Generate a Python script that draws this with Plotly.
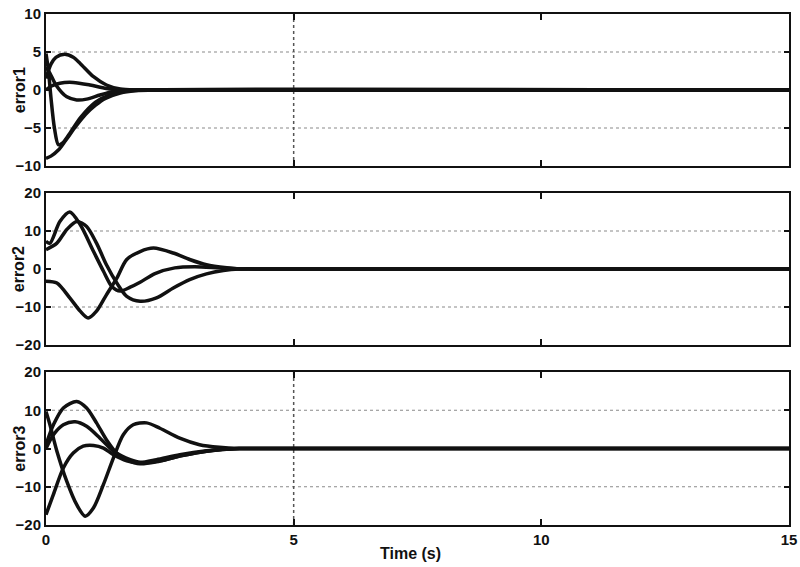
import plotly.graph_objects as go
from plotly.subplots import make_subplots

# ---- error1 traces (time in s, error value) ----
e1_a_t = [0, 0.1, 0.2, 0.38, 0.55, 0.69, 0.96, 1.22, 1.5, 1.8, 2.2, 15]
e1_a_v = [1.5, 3.4, 4.3, 4.7, 4.3, 3.5, 1.75, 0.66, 0.13, 0.0, 0.0, 0.0]

e1_b_t = [0, 0.05, 0.1, 0.17, 0.25, 0.33, 0.45, 0.7, 1.0, 1.3, 1.6, 2.0, 15]
e1_b_v = [4.8, 2.5, -1.0, -5.0, -7.2, -7.0, -6.0, -3.6, -1.6, -0.6, -0.15, 0.0, 0.0]

e1_c_t = [0, 0.1, 0.25, 0.4, 0.6, 0.8, 1.0, 1.2, 1.5, 1.8, 2.2, 15]
e1_c_v = [-9.0, -8.7, -7.9, -6.6, -4.8, -3.2, -2.0, -1.1, -0.4, -0.1, 0.0, 0.0]

e1_d_t = [0, 0.1, 0.28, 0.55, 0.89, 1.22, 1.6, 2.0, 15]
e1_d_v = [0.0, 0.5, 0.9, 1.0, 0.66, 0.2, 0.0, 0.0, 0.0]

e1_e_t = [0, 0.08, 0.2, 0.42, 0.62, 0.82, 1.09, 1.36, 1.7, 2.1, 15]
e1_e_v = [3.0, 2.2, 0.66, -0.9, -1.3, -1.2, -0.66, -0.2, 0.0, 0.0, 0.0]

# ---- error2 traces ----
e2_a_t = [0, 0.08, 0.28, 0.48, 0.69, 0.96, 1.16, 1.33, 1.5, 1.7, 1.9, 2.2, 2.6, 3.0, 3.5, 4.0, 4.5, 15]
e2_a_v = [7.3, 6.8, 12.5, 15.0, 11.7, 4.6, -0.6, -4.6, -5.8, -4.8, -3.5, -1.2, 0.3, 0.6, 0.3, 0.0, 0.0, 0.0]

e2_b_t = [0, 0.22, 0.42, 0.62, 0.82, 1.02, 1.22, 1.43, 1.63, 1.9, 2.23, 2.57, 2.9, 3.24, 3.58, 3.9, 4.5, 15]
e2_b_v = [5.1, 6.8, 10.4, 12.5, 11.2, 6.8, 1.1, -3.7, -7.2, -8.5, -7.6, -5.0, -2.8, -1.3, -0.4, 0.0, 0.0, 0.0]

e2_c_t = [0, 0.22, 0.48, 0.69, 0.85, 1.02, 1.22, 1.43, 1.63, 1.9, 2.17, 2.57, 2.9, 3.24, 3.65, 3.9, 4.5, 15]
e2_c_v = [-3.2, -3.7, -7.6, -11.1, -12.9, -11.1, -6.8, -2.4, 2.5, 4.6, 5.5, 4.2, 2.5, 1.1, 0.3, 0.0, 0.0, 0.0]

# ---- error3 traces ----
e3_a_t = [0, 0.08, 0.22, 0.42, 0.62, 0.79, 0.96, 1.16, 1.36, 1.56, 1.76, 2.03, 2.3, 2.7, 3.1, 3.5, 3.9, 4.5, 15]
e3_a_v = [9.7, 6.2, -0.7, -8.6, -14.7, -17.7, -15.5, -9.4, -2.5, 3.6, 6.2, 6.7, 5.3, 2.7, 1.0, 0.3, 0.0, 0.0, 0.0]

e3_b_t = [0, 0.15, 0.35, 0.62, 0.82, 1.02, 1.22, 1.43, 1.7, 1.9, 2.23, 2.7, 3.24, 3.9, 4.5, 15]
e3_b_v = [1.0, 6.2, 10.6, 12.3, 10.6, 6.7, 2.3, -1.2, -2.9, -3.6, -2.9, -1.6, -0.6, 0.0, 0.0, 0.0]

e3_c_t = [0, 0.15, 0.35, 0.59, 0.82, 1.09, 1.36, 1.63, 1.9, 2.23, 2.7, 3.24, 3.9, 4.5, 15]
e3_c_v = [0.0, 3.6, 6.2, 7.0, 5.8, 2.7, -0.7, -2.9, -4.0, -3.5, -2.0, -0.7, 0.0, 0.0, 0.0]

e3_d_t = [0, 0.15, 0.35, 0.55, 0.75, 0.96, 1.16, 1.36, 1.63, 1.9, 2.3, 2.77, 3.24, 3.9, 4.5, 15]
e3_d_v = [-17.3, -12.0, -5.1, -1.2, 0.6, 0.8, 0.1, -1.6, -3.2, -3.8, -3.2, -1.8, -0.7, 0.0, 0.0, 0.0]

panels = [
    [(e1_a_t, e1_a_v), (e1_b_t, e1_b_v), (e1_c_t, e1_c_v), (e1_d_t, e1_d_v), (e1_e_t, e1_e_v)],
    [(e2_a_t, e2_a_v), (e2_b_t, e2_b_v), (e2_c_t, e2_c_v)],
    [(e3_a_t, e3_a_v), (e3_b_t, e3_b_v), (e3_c_t, e3_c_v), (e3_d_t, e3_d_v)],
]
y_titles = ["error1", "error2", "error3"]
y_ranges = [[-10, 10], [-20, 20], [-20, 20]]
y_ticks = [[-10, -5, 0, 5, 10], [-20, -10, 0, 10, 20], [-20, -10, 0, 10, 20]]
y_grid = [[-5, 5], [-10, 10], [-10, 10]]
x_ticks = [0, 5, 10, 15]

# panel domains in paper units (top panel first)
domains = [[0.7025, 1.0], [0.3523, 0.6497], [0.0, 0.2994]]

fig = make_subplots(rows=3, cols=1, shared_xaxes=False)

ink = "#111111"
font_fam = "Liberation Sans, Arial, sans-serif"

for i, curves in enumerate(panels):
    row = i + 1
    for t, v in curves:
        fig.add_trace(
            go.Scatter(x=t, y=v, mode="lines",
                       line=dict(color=ink, width=3.5, shape="spline", smoothing=0.8),
                       showlegend=False, hoverinfo="skip"),
            row=row, col=1)

    fig.update_yaxes(
        row=row, col=1, range=y_ranges[i], tickvals=y_ticks[i],
        domain=domains[i], automargin=False,
        showgrid=False, zeroline=False,
        showline=True, linecolor=ink, linewidth=2, mirror="ticks",
        ticks="inside", ticklen=5, tickwidth=1.5, tickcolor=ink,
        tickfont=dict(family=font_fam, size=15, color=ink, weight="bold"),
    )
    fig.update_xaxes(
        row=row, col=1, range=[0, 15], tickvals=x_ticks, automargin=False,
        showgrid=False, zeroline=False,
        showline=True, linecolor=ink, linewidth=2, mirror="ticks",
        ticks="inside", ticklen=6, tickwidth=1.5, tickcolor=ink,
        showticklabels=(row == 3),
        tickfont=dict(family=font_fam, size=15, color=ink, weight="bold"),
    )

    # vertical axis caption, centred on the panel
    fig.add_annotation(text=y_titles[i], xref="paper", yref="paper",
                       x=-0.036, y=sum(domains[i]) / 2, textangle=-90,
                       xanchor="center", yanchor="middle", showarrow=False,
                       font=dict(family=font_fam, size=16, color=ink, weight="bold"))

    # dotted horizontal reference lines
    xref = "x" if row == 1 else f"x{row}"
    yref = "y" if row == 1 else f"y{row}"
    for gy in y_grid[i]:
        fig.add_shape(type="line", xref=xref, yref=yref, x0=0, x1=15, y0=gy, y1=gy,
                      line=dict(color="#8a8a8a", width=1.2, dash="dot"), layer="below")
    # dotted vertical reference line at t = 5 s
    if row != 2:
        fig.add_shape(type="line", xref=xref, yref=yref, x0=5, x1=5,
                      y0=y_ranges[i][0], y1=y_ranges[i][1],
                      line=dict(color="#555555", width=1.5, dash="dot"), layer="below")

fig.add_annotation(text="Time (s)", xref="paper", yref="paper", x=0.49, y=-0.055,
                   xanchor="center", yanchor="middle", showarrow=False,
                   font=dict(family=font_fam, size=16, color=ink, weight="bold"))

fig.update_layout(
    width=800, height=567,
    margin=dict(l=46, r=11, t=14, b=42),
    paper_bgcolor="white", plot_bgcolor="white",
)

fig.write_html("out.html")
